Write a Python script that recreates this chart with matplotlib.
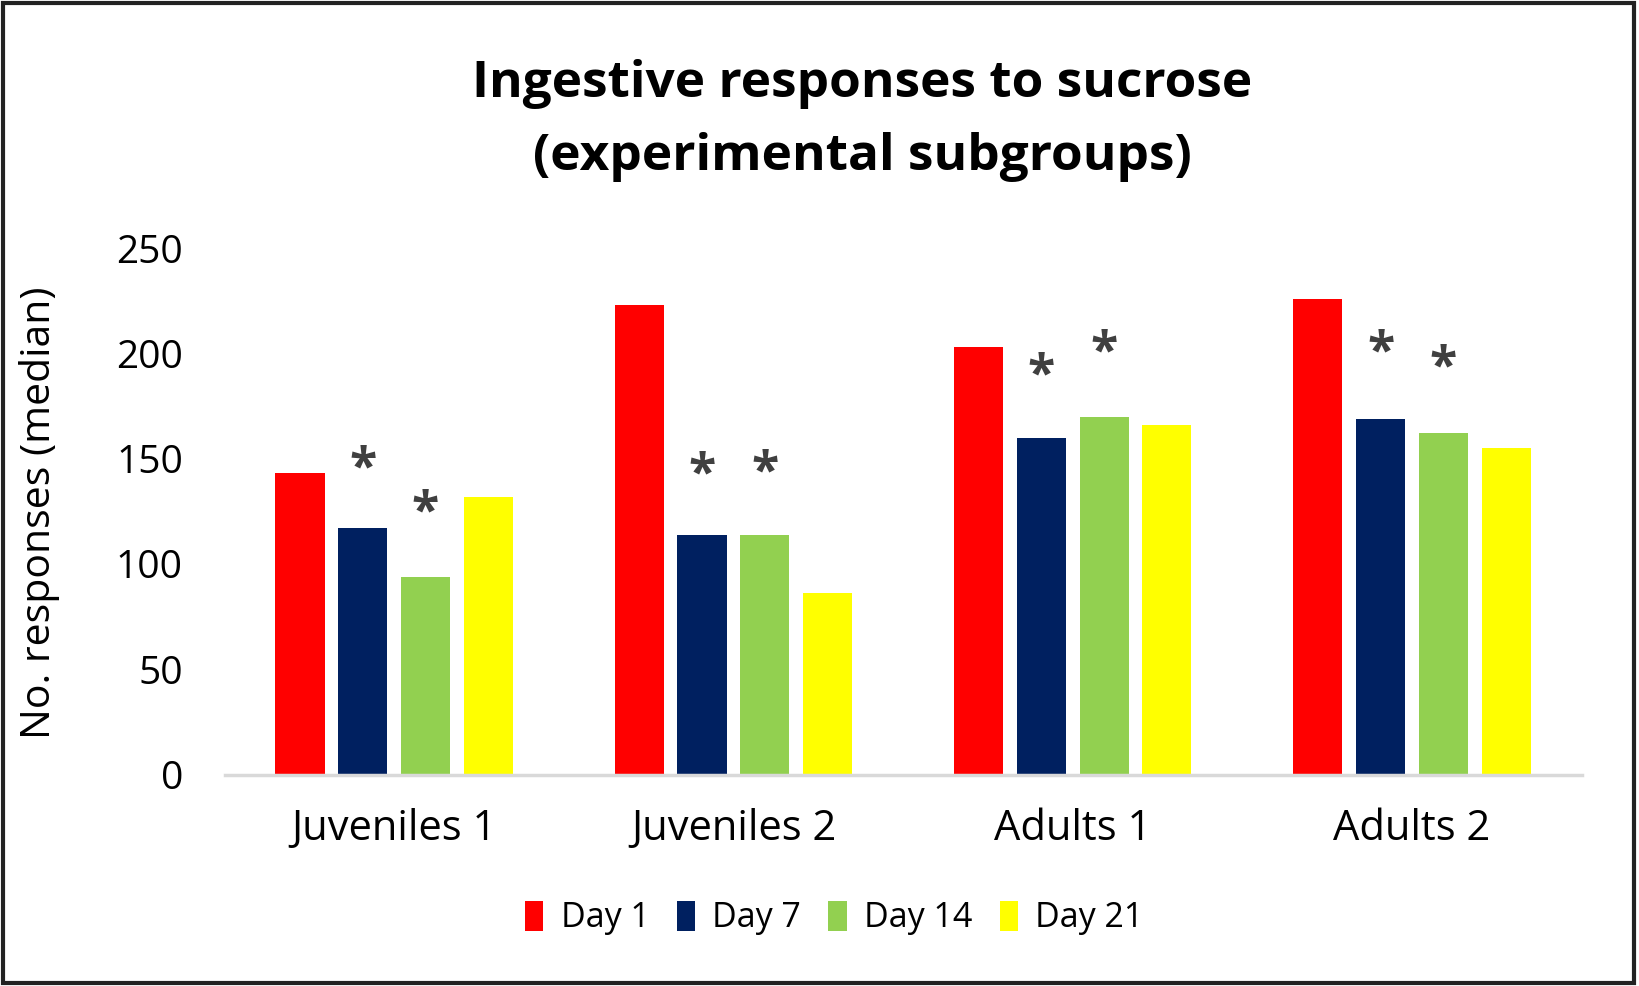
import numpy as np
import matplotlib.pyplot as plt
from matplotlib.patches import Rectangle

# Data
groups = ["Juveniles 1", "Juveniles 2", "Adults 1", "Adults 2"]
days = ["Day 1", "Day 7", "Day 14", "Day 21"]
day1 = [143, 223, 203, 226]
day7 = [117, 114, 160, 169]
day14 = [94, 114, 170, 162]
day21 = [132, 86, 166, 155]
colors = ["#FF0000", "#002060", "#92D050", "#FFFF00"]

# significance marks: (group index, day index, y position)
stars = [(0, 1, 145), (0, 2, 124),
         (1, 1, 142), (1, 2, 143),
         (2, 1, 189), (2, 2, 200),
         (3, 1, 200), (3, 2, 193)]

plt.rcParams['font.family'] = ['Open Sans', 'DejaVu Sans']

fig = plt.figure(figsize=(16.39, 9.86), dpi=100)
ax = fig.add_axes([0.137, 0.2144, 0.828, 0.534])

x = np.arange(len(groups))
step = 0.185
width = 0.145
series = [day1, day7, day14, day21]
for i, vals in enumerate(series):
    ax.bar(x + (i - 1.5) * step, vals, width, color=colors[i], label=days[i])

for g, d, y in stars:
    ax.text(g + (d - 1.5) * step, y, "*", ha="center", va="center",
            fontsize=36, fontweight="bold", color="#404040")

ax.set_xlim(-0.5, 3.5)
ax.set_ylim(0, 250)
ax.set_yticks(range(0, 251, 50))
ax.set_xticks(x)
ax.set_xticklabels(groups)
ax.tick_params(axis="y", length=0, labelsize=28, pad=30)
ax.tick_params(axis="x", length=0, labelsize=30, pad=24)
for s in ["top", "right", "left"]:
    ax.spines[s].set_visible(False)
ax.spines["bottom"].set_color("#d9d9d9")
ax.spines["bottom"].set_linewidth(2.5)

# y label
fig.text(0.0243, 0.48, "No. responses (median)", rotation=90,
         ha="center", va="center", fontsize=29.5)

fig.text(0.526, 0.878, "Ingestive responses to sucrose\n(experimental subgroups)",
         ha="center", va="center", fontsize=37, fontweight="bold", linespacing=1.6)

fig.legend(loc="center", bbox_to_anchor=(0.509, 0.069), ncol=4, frameon=False,
           fontsize=24.5, handlelength=0.55, handleheight=1.0, handletextpad=0.5,
           columnspacing=0.8)

fig.add_artist(Rectangle((0.002, 0.003), 0.995, 0.994, transform=fig.transFigure,
                         fill=False, edgecolor="#222222", linewidth=3))

fig.savefig("out.png", dpi=100)
